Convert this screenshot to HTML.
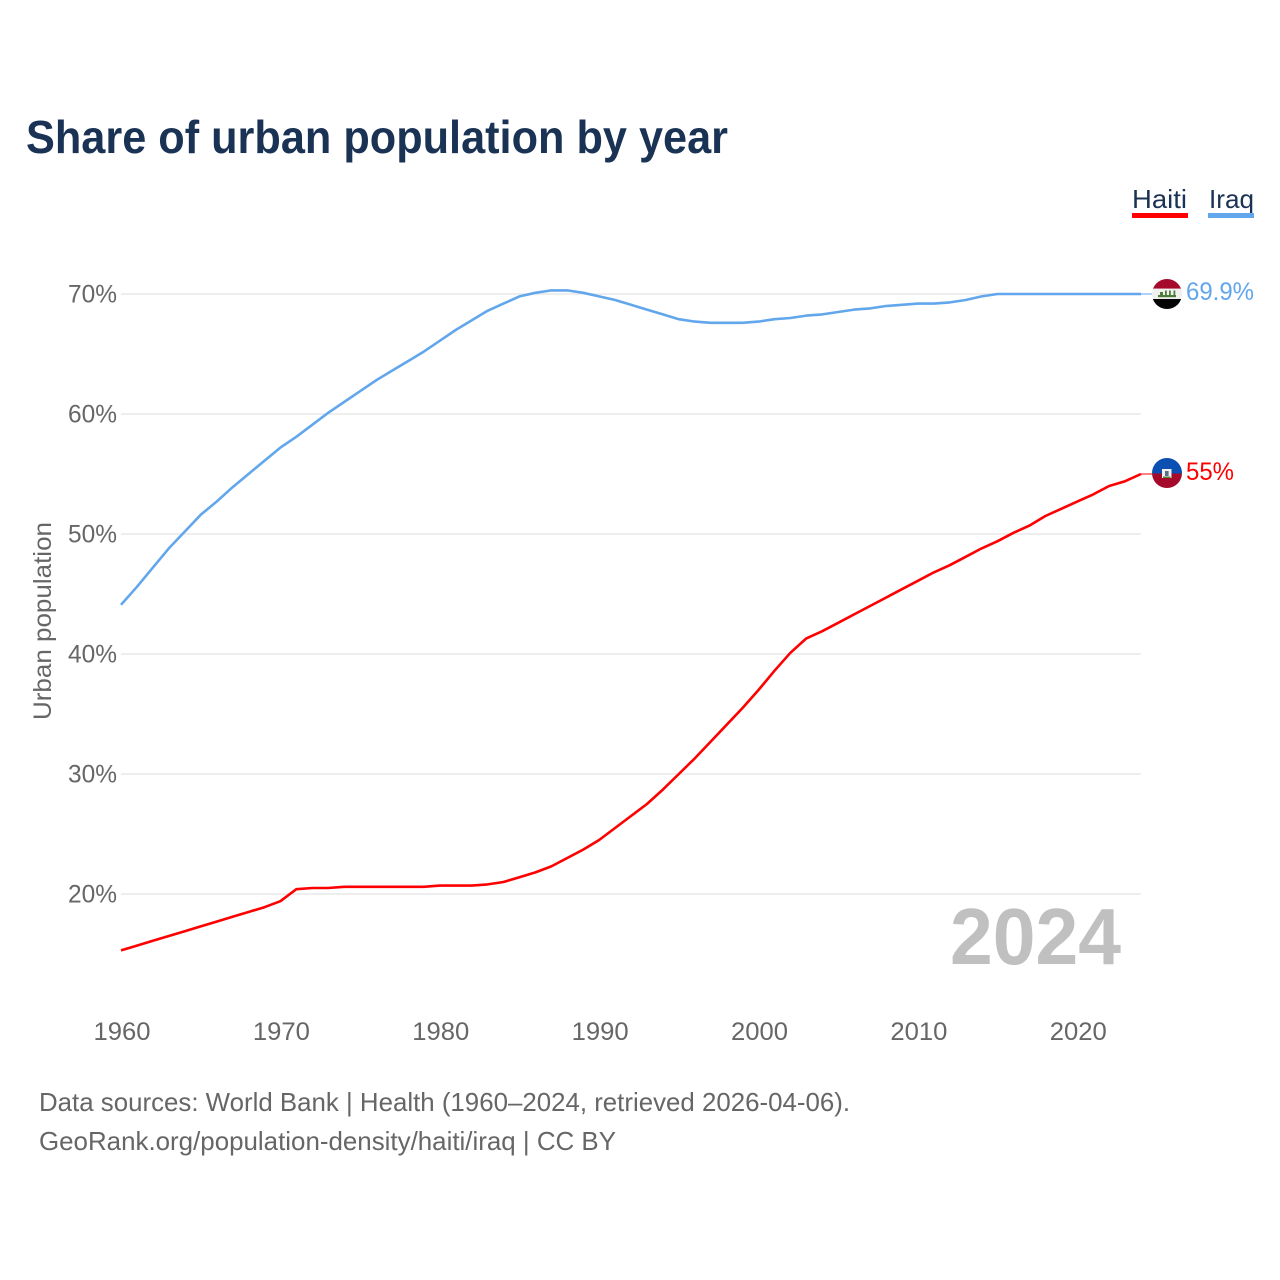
<!DOCTYPE html>
<html lang="en">
<head>
<meta charset="utf-8">
<title>Share of urban population by year</title>
<style>
  html, body { margin: 0; padding: 0; background: #fff; }
  svg { display: block; font-family: "Liberation Sans", sans-serif; }
</style>
</head>
<body>
<svg id="chart" width="1280" height="1280" viewBox="0 0 1280 1280" xmlns="http://www.w3.org/2000/svg">
  <defs>
    <clipPath id="flag-clip-iraq"><circle cx="1167" cy="294" r="15"></circle></clipPath>
    <clipPath id="flag-clip-haiti"><circle cx="1167" cy="473" r="15"></circle></clipPath>
  </defs>
  <rect width="1280" height="1280" fill="#fff"></rect>

  <text x="26" y="153" font-size="46" font-weight="700" fill="#1a3355" textLength="702" lengthAdjust="spacingAndGlyphs">Share of urban population by year</text>

  <g>
    <g>
      <text x="1132" y="208" font-size="26" fill="#1a3355" textLength="55" lengthAdjust="spacingAndGlyphs">Haiti</text>
      <rect x="1132" y="213" width="56" height="5" fill="#ff0000"></rect>
    </g>
    <g>
      <text x="1209" y="208" font-size="26" fill="#1a3355" textLength="45" lengthAdjust="spacingAndGlyphs">Iraq</text>
      <rect x="1208" y="213" width="46" height="5" fill="#62a6ec"></rect>
    </g>
  </g>

  <g id="grid"></g>
  <g id="y-axis"></g>
  <g id="x-axis"></g>

  <text transform="translate(51,720) rotate(-90)" font-size="25" fill="#666666" textLength="198" lengthAdjust="spacingAndGlyphs">Urban population</text>

  <text x="950" y="964" font-size="80" font-weight="700" fill="#c0c0c0" textLength="171" lengthAdjust="spacingAndGlyphs">2024</text>

  <g id="series"></g>

  <g id="flag-iraq" clip-path="url(#flag-clip-iraq)">
    <rect x="1152" y="279" width="30" height="9.7" fill="#a50a2a"></rect>
    <rect x="1152" y="288.7" width="30" height="10.3" fill="#f0f0f0"></rect>
    <rect x="1152" y="299" width="30" height="10.5" fill="#050505"></rect>
    <rect x="1158" y="295" width="18" height="2.2" fill="#4f7d3a"></rect>
    <rect x="1160" y="292" width="3" height="3" fill="#4f7d3a"></rect>
    <rect x="1165" y="290.5" width="1.8" height="5" fill="#4f7d3a"></rect>
    <rect x="1169" y="290.5" width="1.8" height="5" fill="#4f7d3a"></rect>
    <rect x="1173.5" y="290.5" width="1.8" height="5" fill="#4f7d3a"></rect>
  </g>
  <g id="flag-haiti" clip-path="url(#flag-clip-haiti)">
    <rect x="1152" y="458" width="30" height="15.5" fill="#0b4fb3"></rect>
    <rect x="1152" y="473.5" width="30" height="15" fill="#a50a2a"></rect>
    <rect x="1162" y="469" width="9.5" height="9" fill="#f2f2f2"></rect>
    <rect x="1165" y="471" width="3.6" height="5" fill="#5a6f8a"></rect>
    <rect x="1163" y="476.5" width="7.5" height="1.5" fill="#4f8a3a"></rect>
  </g>

  <text x="1186" y="300" font-size="25" fill="#62a6ec" textLength="68" lengthAdjust="spacingAndGlyphs">69.9%</text>
  <text x="1186" y="480" font-size="25" fill="#ff0000" textLength="48" lengthAdjust="spacingAndGlyphs">55%</text>

  <g>
    <text x="39" y="1111" font-size="26" fill="#666666" textLength="811" lengthAdjust="spacingAndGlyphs">Data sources: World Bank | Health (1960–2024, retrieved 2026-04-06).</text>
    <text x="39" y="1150" font-size="26" fill="#666666" textLength="577" lengthAdjust="spacingAndGlyphs">GeoRank.org/population-density/haiti/iraq | CC BY</text>
  </g>
</svg>
<script>
const years = [1960,1961,1962,1963,1964,1965,1966,1967,1968,1969,1970,1971,1972,1973,1974,1975,1976,1977,1978,1979,1980,1981,1982,1983,1984,1985,1986,1987,1988,1989,1990,1991,1992,1993,1994,1995,1996,1997,1998,1999,2000,2001,2002,2003,2004,2005,2006,2007,2008,2009,2010,2011,2012,2013,2014,2015,2016,2017,2018,2019,2020,2021,2022,2023,2024];
const iraqValues = [44.1,45.6,47.2,48.8,50.2,51.6,52.7,53.9,55.0,56.1,57.2,58.1,59.1,60.1,61.0,61.9,62.8,63.6,64.4,65.2,66.1,67.0,67.8,68.6,69.2,69.8,70.1,70.3,70.3,70.1,69.8,69.5,69.1,68.7,68.3,67.9,67.7,67.6,67.6,67.6,67.7,67.9,68.0,68.2,68.3,68.5,68.7,68.8,69.0,69.1,69.2,69.2,69.3,69.5,69.8,70.0,70.0,70.0,70.0,70.0,70.0,70.0,70.0,70.0,70.0];
const haitiValues = [15.3,15.7,16.1,16.5,16.9,17.3,17.7,18.1,18.5,18.9,19.4,20.4,20.5,20.5,20.6,20.6,20.6,20.6,20.6,20.6,20.7,20.7,20.7,20.8,21.0,21.4,21.8,22.3,23.0,23.7,24.5,25.5,26.5,27.5,28.7,30.0,31.3,32.7,34.1,35.5,37.0,38.6,40.1,41.3,41.9,42.6,43.3,44.0,44.7,45.4,46.1,46.8,47.4,48.1,48.8,49.4,50.1,50.7,51.5,52.1,52.7,53.3,54.0,54.4,55.0];
const yTicks = [20,30,40,50,60,70];
const xTicks = [1960,1970,1980,1990,2000,2010,2020];

const SVG_NS = 'http://www.w3.org/2000/svg';
function xScale(year) { return 121 + (year - 1960) * (1141 - 121) / (2024 - 1960); }
function yScale(value) { return 894 - (value - 20) * (894 - 294) / (70 - 20); }
function make(tag, attrs, parent) {
  const el = document.createElementNS(SVG_NS, tag);
  for (const k in attrs) el.setAttribute(k, attrs[k]);
  parent.appendChild(el);
  return el;
}

const gridGroup = document.getElementById('grid');
const yAxisGroup = document.getElementById('y-axis');
const xAxisGroup = document.getElementById('x-axis');
const seriesGroup = document.getElementById('series');

yTicks.forEach(function (t) {
  const line = make('line', { x1: 121, x2: 1141, y1: yScale(t), y2: yScale(t), stroke: '#e9e9e9', 'stroke-width': 1.6 }, gridGroup);
  
  
  const label = make('text', { x: 117, y: yScale(t) + 8.5, 'font-size': 25, fill: '#666666', 'text-anchor': 'end', textLength: 49, lengthAdjust: 'spacingAndGlyphs' }, yAxisGroup);
  label.textContent = t + '%';
  
  
});

xTicks.forEach(function (t) {
  const label = make('text', { x: xScale(t) + 1, y: 1040, 'font-size': 25, fill: '#666666', 'text-anchor': 'middle', textLength: 57, lengthAdjust: 'spacingAndGlyphs' }, xAxisGroup);
  label.textContent = String(t);
  
  
});

function pathFor(values) {
  return values.map(function (v, i) {
    return (i ? 'L' : 'M') + xScale(years[i]).toFixed(2) + ' ' + yScale(v).toFixed(2);
  }).join(' ');
}

const iraqLine = make('path', { d: pathFor(iraqValues), fill: 'none', stroke: '#62a6ec', 'stroke-width': 2.6, 'stroke-linejoin': 'round' }, seriesGroup);



const haitiLine = make('path', { d: pathFor(haitiValues), fill: 'none', stroke: '#ff0000', 'stroke-width': 2.6, 'stroke-linejoin': 'round' }, seriesGroup);



const iraqLast = iraqValues[iraqValues.length - 1];
const haitiLast = haitiValues[haitiValues.length - 1];
const iraqConnector = make('line', { x1: xScale(2024), x2: 1152, y1: yScale(iraqLast), y2: yScale(iraqLast), stroke: '#62a6ec', 'stroke-width': 1 }, seriesGroup);


const haitiConnector = make('line', { x1: xScale(2024), x2: 1152, y1: yScale(haitiLast), y2: yScale(haitiLast), stroke: '#ff0000', 'stroke-width': 1 }, seriesGroup);


</script>
</body>
</html>
